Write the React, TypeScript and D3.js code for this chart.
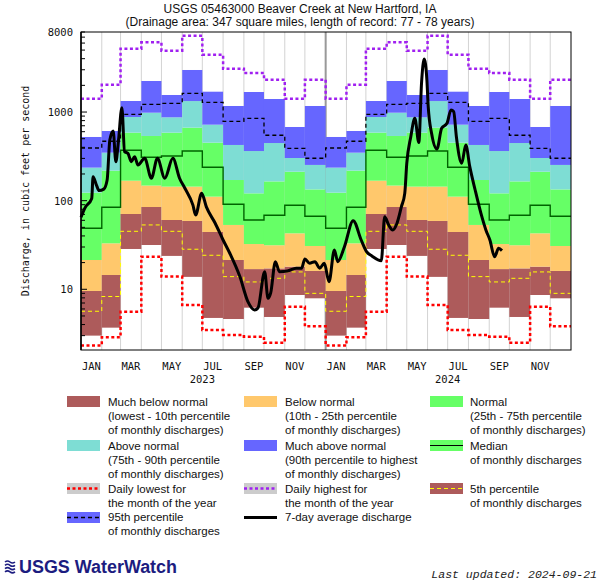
import React from "react";
import * as d3 from "d3";

// ---------- DATA ----------
const monthNames = ["JAN", "FEB", "MAR", "APR", "MAY", "JUN", "JUL", "AUG", "SEP", "OCT", "NOV", "DEC"];
const yearLabels = ["2023", "2024"];
const yTickLabels = [10, 100, 1000, 8000];

// monthly statistics (index 0 = January), cubic feet per second
const dailyLowest = [2.32, 2.87, 5.59, 23.3, 13.9, 6.65, 3.47, 3.05, 2.92, 2.5, 6.36, 3.83];
const monthlyMin = [3.0, 3.69, 28.5, 31.6, 23.8, 13.8, 4.75, 4.62, 6.2, 4.87, 8.62, 7.91];
const p05 = [5.65, 8.29, 45.1, 53.2, 45.1, 28.3, 24.2, 13.9, 12.1, 13.3, 15.7, 9.0];
const p10 = [9.57, 14.5, 70.7, 84.8, 60.5, 59.0, 44.3, 21.4, 16.9, 17.2, 18.0, 16.1];
const p25 = [21.4, 33.0, 168, 148, 144, 144, 111, 53.2, 32.4, 31.4, 42.8, 30.8];
const median = [48.8, 84.2, 370, 309, 319, 363, 238, 91, 60.5, 68.4, 88.7, 66.6];
const p75 = [123, 218, 585, 537, 585, 666, 451, 171, 121, 165, 212, 134];
const p90 = [236, 348, 879, 983, 872, 1330, 720, 425, 363, 447, 303, 253];
const p95 = [393, 468, 943, 1223, 1255, 1627, 1288, 786, 850, 547, 390, 301];
const monthlyMax = [523, 611, 1332, 2240, 1557, 2981, 1696, 1170, 1683, 1403, 678, 1170];
const dailyHighest = [1410, 2030, 5180, 6120, 4920, 7270, 4440, 3080, 2760, 2320, 1410, 2320];

// 7-day average discharge
const flowDates = [
  "2023-01-01", "2023-01-07", "2023-01-17", "2023-01-19", "2023-01-24", "2023-01-28", "2023-02-04", "2023-02-09",
  "2023-02-13", "2023-02-18", "2023-02-22", "2023-02-26", "2023-03-03", "2023-03-07", "2023-03-12", "2023-03-17",
  "2023-03-22", "2023-03-27", "2023-04-06", "2023-04-16", "2023-04-25", "2023-05-06", "2023-05-18", "2023-05-28",
  "2023-06-05", "2023-06-17", "2023-06-21", "2023-06-30", "2023-07-07", "2023-07-20", "2023-08-01", "2023-08-11",
  "2023-08-26", "2023-09-07", "2023-09-17", "2023-09-22", "2023-10-02", "2023-10-07", "2023-10-11", "2023-10-18",
  "2023-10-24", "2023-11-05", "2023-11-18", "2023-11-26", "2023-12-01", "2023-12-08", "2023-12-16", "2023-12-23",
  "2023-12-30", "2024-01-06", "2024-01-14", "2024-01-19", "2024-01-29", "2024-02-11", "2024-02-23", "2024-03-02",
  "2024-03-10", "2024-03-24", "2024-03-29", "2024-04-04", "2024-04-10", "2024-04-16", "2024-04-23", "2024-04-28",
  "2024-05-01", "2024-05-07", "2024-05-13", "2024-05-19", "2024-05-23", "2024-05-27", "2024-05-31", "2024-06-02",
  "2024-06-07", "2024-06-15", "2024-06-22", "2024-06-30", "2024-07-06", "2024-07-10", "2024-07-14", "2024-07-22",
  "2024-07-28", "2024-08-03", "2024-08-11", "2024-08-21", "2024-08-27", "2024-09-02", "2024-09-09", "2024-09-15",
  "2024-09-20",
];
const flowValues = [
  65, 83, 106, 186, 150, 130, 135, 171,
  484, 611, 275, 484, 1119, 357, 342, 275,
  313, 253, 301, 179, 301, 179, 301, 179,
  138, 89, 69, 121, 85, 56, 36, 25.5,
  13.9, 7.25, 5.84, 6.15, 15.8, 7.9, 9.1, 20.5,
  15.8, 16.1, 17.3, 17.3, 22.0, 19.7, 20.5, 17.3,
  19.7, 12.2, 27.8, 20.5, 30.2, 59.4, 36.0, 26.6,
  23.8, 21.0, 65.9, 53.2, 46.7, 54.6, 85.5, 121,
  264, 527, 850, 453, 2110, 3970, 2300, 1149,
  576, 383, 656, 746, 1055, 1009, 527, 264,
  425, 242, 132, 65.9, 46.7, 36.0, 23.3, 29.0,
  27.3,
];

// ---------- STYLE ----------
const C_BROWN = "#AD5B5B";
const C_ORANGE = "#FFC86C";
const C_GREEN = "#66FF66";
const C_CYAN = "#7EDDD4";
const C_BLUE = "#6666FF";
const C_GRAY = "#CCCCCC";
const SANS = "'Liberation Sans', Arial, sans-serif";
const MONO = "'DejaVu Sans Mono', monospace";

export default function App() {
  const W = 600, H = 585;
  const L = 81, R = 571, T = 32, B = 350;
  const parse = d3.utcParse("%Y-%m-%d");
  const x = d3.scaleUtc().domain([new Date(Date.UTC(2023, 0, 1)), new Date(Date.UTC(2025, 0, 1))]).range([L, R]);
  const y = d3.scaleLog().domain([2.065, 8000]).range([B, T]);

  const months = d3.range(24).map((i) => ({
    i,
    m: i % 12,
    start: new Date(Date.UTC(2023 + Math.floor(i / 12), i % 12, 1)),
    end: new Date(Date.UTC(2023 + Math.floor((i + 1) / 12), (i + 1) % 12, 1)),
  }));

  const bands: [number[], number[], string][] = [
    [monthlyMin, p10, C_BROWN],
    [p10, p25, C_ORANGE],
    [p25, p75, C_GREEN],
    [p75, p90, C_CYAN],
    [p90, monthlyMax, C_BLUE],
  ];

  const stepPath = (vals: number[]) => {
    const pts: [number, number][] = months.map((mo) => [x(mo.start), y(vals[mo.m])]);
    pts.push([x(months[23].end), y(vals[11])]);
    return d3.line().curve(d3.curveStepAfter)(pts) || "";
  };

  const flowPts: [number, number][] = flowDates.map((d, k) => [x(parse(d) as Date), y(flowValues[k])]);
  const flowPath = d3.line().curve(d3.curveMonotoneX)(flowPts) || "";

  const yTicks: { v: number; major: boolean }[] = [];
  for (const e of [0, 1, 2, 3]) {
    for (let k = 1; k <= 9; k++) {
      const v = k * Math.pow(10, e);
      if (v >= 2.065 && v <= 8000) yTicks.push({ v, major: k === 1 });
    }
  }

  // legend
  const swX = [67, 244, 430];
  const txX = [108, 285, 470];
  const rowTop = [396, 440, 483, 512];
  const rowBase = [406, 450, 493, 521];
  const SW = 33, SH = 11;
  type Item = { row: number; col: number; fill?: string; line?: { color: string; width: number; dash?: string }; lines: string[] };
  const items: Item[] = [
    { row: 0, col: 0, fill: C_BROWN, lines: ["Much below normal", "(lowest - 10th percentile", "of monthly discharges)"] },
    { row: 0, col: 1, fill: C_ORANGE, lines: ["Below normal", "(10th - 25th percentile", "of monthly discharges)"] },
    { row: 0, col: 2, fill: C_GREEN, lines: ["Normal", "(25th - 75th percentile", "of monthly discharges)"] },
    { row: 1, col: 0, fill: C_CYAN, lines: ["Above normal", "(75th - 90th percentile", "of monthly discharges)"] },
    { row: 1, col: 1, fill: C_BLUE, lines: ["Much above normal", "(90th percentile to highest", "of monthly discharges)"] },
    { row: 1, col: 2, fill: C_GREEN, line: { color: "#000", width: 1.2 }, lines: ["Median", "of monthly discharges"] },
    { row: 2, col: 0, fill: C_GRAY, line: { color: "#FF0000", width: 2.5, dash: "3,2.5" }, lines: ["Daily lowest for", "the month of the year"] },
    { row: 2, col: 1, fill: C_GRAY, line: { color: "#A020F0", width: 2.5, dash: "3,2.5" }, lines: ["Daily highest for", "the month of the year"] },
    { row: 2, col: 2, fill: C_BROWN, line: { color: "#FFFF00", width: 1, dash: "4,3" }, lines: ["5th percentile", "of monthly discharges"] },
    { row: 3, col: 0, fill: C_BLUE, line: { color: "#000", width: 1.3, dash: "4,3" }, lines: ["95th percentile", "of monthly discharges"] },
    { row: 3, col: 1, line: { color: "#000", width: 3 }, lines: ["7-day average discharge"] },
  ];

  return (
    <svg width={W} height={H} style={{ position: "absolute", left: 0, top: 0, display: "block", background: "#fff" }}>
      <rect x={0} y={0} width={W} height={H} fill="#fff" />
      {/* titles */}
      <text x={300} y={13} textAnchor="middle" fontFamily={SANS} fontSize={12} fill="#111">
        USGS 05463000 Beaver Creek at New Hartford, IA
      </text>
      <text x={300} y={26} textAnchor="middle" fontFamily={SANS} fontSize={12} fill="#111">
        (Drainage area: 347 square miles, length of record: 77 - 78 years)
      </text>

      {/* grid lines */}
      {months.slice(1).map((mo) => (
        <line
          key={"g" + mo.i}
          x1={x(mo.start)}
          x2={x(mo.start)}
          y1={T}
          y2={B}
          stroke={mo.i === 12 ? "#999" : "#D3D3D3"}
          strokeWidth={mo.i === 12 ? 2 : 1}
        />
      ))}

      {/* bars */}
      {months.map((mo) =>
        bands.map(([lo, hi, col], b) => (
          <rect
            key={"b" + mo.i + "-" + b}
            x={x(mo.start)}
            width={x(mo.end) - x(mo.start)}
            y={y(hi[mo.m])}
            height={y(lo[mo.m]) - y(hi[mo.m])}
            fill={col}
          />
        ))
      )}

      {/* percentile lines */}
      <path d={stepPath(p05)} fill="none" stroke="#FFFF00" strokeWidth={1} strokeDasharray="4,3" />
      <path d={stepPath(p95)} fill="none" stroke="#000" strokeWidth={1.3} strokeDasharray="4,3" />
      <path d={stepPath(median)} fill="none" stroke="#006400" strokeWidth={1.4} />
      <path d={stepPath(dailyLowest)} fill="none" stroke="#FF0000" strokeWidth={2.5} strokeDasharray="3,2.5" />
      <path d={stepPath(dailyHighest)} fill="none" stroke="#A020F0" strokeWidth={2.5} strokeDasharray="3,2.5" />

      {/* 7-day average */}
      <path d={flowPath} fill="none" stroke="#000" strokeWidth={3} strokeLinejoin="round" />

      {/* frame */}
      <rect x={L} y={T} width={R - L} height={B - T} fill="none" stroke="#000" strokeWidth={1} />
      <line x1={L} x2={L} y1={T} y2={B} stroke="#000" strokeWidth={1.5} />

      {/* y ticks */}
      {yTicks.map((t) => (
        <line key={"t" + t.v} x1={L} x2={L + (t.major ? 6 : 4)} y1={y(t.v)} y2={y(t.v)} stroke="#000" strokeWidth={1} />
      ))}
      {yTickLabels.map((v) => (
        <text key={"yl" + v} x={73} y={y(v) + 4} textAnchor="end" fontFamily={MONO} fontSize={10.5} fill="#111">
          {v}
        </text>
      ))}
      <text
        transform={`translate(29,${(T + B) / 2}) rotate(-90)`}
        textAnchor="middle"
        fontFamily={MONO}
        fontSize={10}
        fill="#111"
      >
        Discharge, in cubic feet per second
      </text>

      {/* x labels */}
      {months
        .filter((mo) => mo.m % 2 === 0)
        .map((mo) => (
          <text
            key={"xl" + mo.i}
            x={(x(mo.start) + x(mo.end)) / 2}
            y={370}
            textAnchor="middle"
            fontFamily={MONO}
            fontSize={10.5}
            fill="#111"
          >
            {monthNames[mo.m]}
          </text>
        ))}
      {yearLabels.map((yr, k) => (
        <text
          key={"yr" + yr}
          x={x(new Date(Date.UTC(2023 + k, 6, 1)))}
          y={383}
          textAnchor="middle"
          fontFamily={MONO}
          fontSize={10.5}
          fill="#111"
        >
          {yr}
        </text>
      ))}

      {/* legend */}
      {items.map((it, k) => {
        const sx = swX[it.col];
        const sy = rowTop[it.row];
        return (
          <g key={"lg" + k}>
            {it.fill && <rect x={sx} y={sy} width={SW} height={SH} fill={it.fill} />}
            {it.line && (
              <line
                x1={sx}
                x2={sx + SW}
                y1={sy + SH / 2}
                y2={sy + SH / 2}
                stroke={it.line.color}
                strokeWidth={it.line.width}
                strokeDasharray={it.line.dash}
              />
            )}
            {it.lines.map((s, j) => (
              <text key={j} x={txX[it.col]} y={rowBase[it.row] + j * 14} fontFamily={SANS} fontSize={11.5} fill="#111">
                {s}
              </text>
            ))}
          </g>
        );
      })}

      {/* logo */}
      <g fill="none" stroke="#1C1C80" strokeWidth={1.6}>
        {[0, 1, 2, 3].map((k) => (
          <path
            key={"w" + k}
            d={`M5,${562 + k * 3.3} q2.5,-2 5,0 q2.5,2 5,0`}
          />
        ))}
      </g>
      <text
        x={19}
        y={573}
        fontFamily={SANS}
        fontWeight="bold"
        fontSize={18}
        fill="#1C1C80"
        textLength={158}
        lengthAdjust="spacingAndGlyphs"
      >
        USGS WaterWatch
      </text>
      <text
        x={597}
        y={578}
        textAnchor="end"
        fontFamily="'Liberation Mono', 'Courier New', monospace"
        fontStyle="italic"
        fontSize={11.5}
        fill="#222"
      >
        Last updated: 2024-09-21
      </text>
    </svg>
  );
}
